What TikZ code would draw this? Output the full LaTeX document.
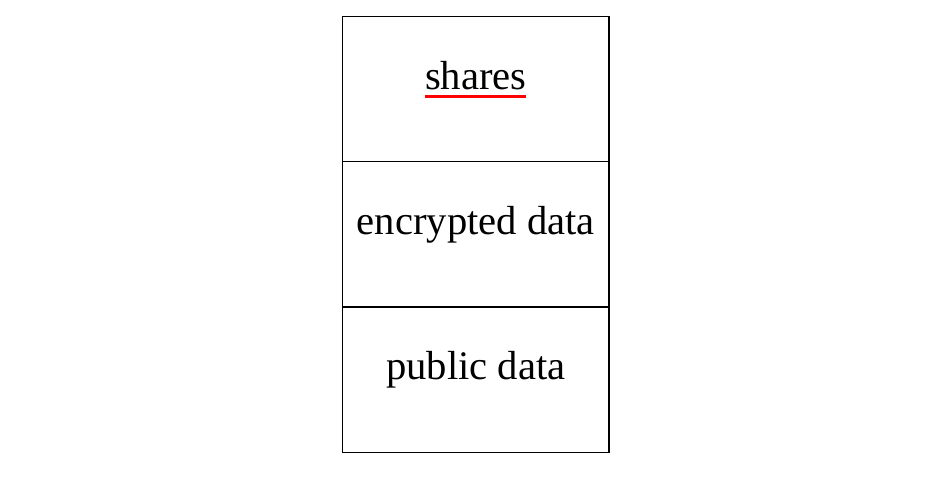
\documentclass[tikz,border=0pt]{standalone}
\usepackage{fontspec}
\setmainfont{Liberation Serif}
\usetikzlibrary{positioning}

\newcommand\redul[1]{\setbox0\hbox{#1}\rlap{\color{red}\rule[-9pt]{\wd0}{3pt}}\box0}

\begin{document}
\begin{tikzpicture}[x=1pt, y=1pt, node distance=0pt,
  cell/.style={draw, line width=1.4pt, rectangle, outer sep=0pt, inner sep=0pt,
    minimum width=266.5pt, minimum height=145.3pt,
    text height=0pt, text depth=0pt, font=\fontsize{40.6}{48}\selectfont}]
\useasboundingbox (0,0) rectangle (946,478);
\node [cell] (shares) at (475.75,388.85) {\redul{shares}};
\node [cell] (encrypted) [below = of shares] {encrypted data};
\node [cell] (public) [below = of encrypted] {public data};
\end{tikzpicture}
\end{document}
